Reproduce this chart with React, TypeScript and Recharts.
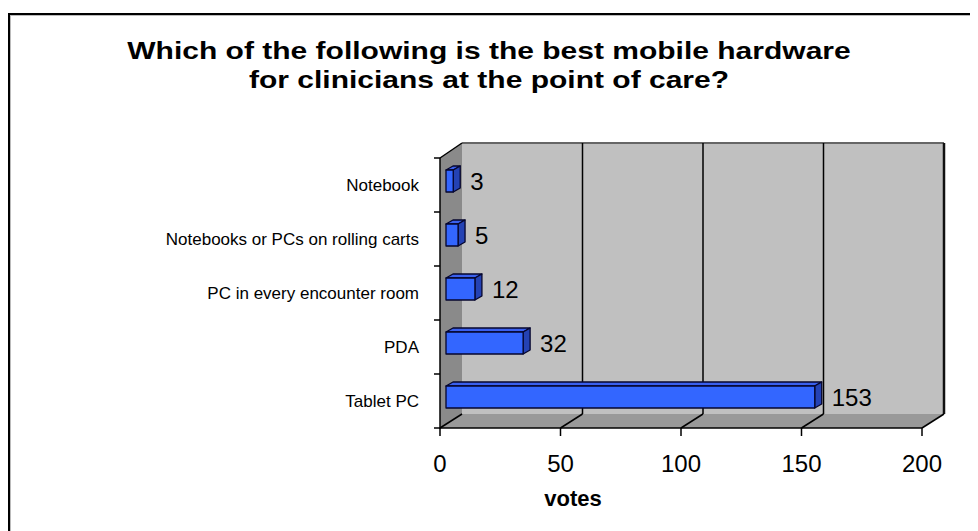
import { BarChart, Bar, XAxis, YAxis, ReferenceArea, ReferenceLine, LabelList, Label } from 'recharts'

// survey answers, top to bottom as in the chart
const categories = [
  'Notebook',
  'Notebooks or PCs on rolling carts',
  'PC in every encounter room',
  'PDA',
  'Tablet PC',
]
const votes = [3, 5, 12, 32, 153]
const xTicks = [0, 50, 100, 150, 200]

const data = categories.map((name, i) => ({ name, votes: votes[i] }))

const FONT = '"Liberation Sans", Arial, sans-serif'
// depth of the fake 3d box
const DX = 22
const DY = 14

function Walls(props: any) {
  const { x, y, width: w, height: h } = props
  const b = y + h
  const ticks = [0, 1, 2, 3, 4, 5].map((i) => y + (i * h) / 5)
  return (
    <g>
      <rect x={x + DX} y={y - 15} width={w} height={h + 15 - DY} fill="#c0c0c0" />
      <polygon
        points={`${x},${y} ${x + DX},${y - 15} ${x + DX},${b - DY} ${x},${b}`}
        fill="#8a8a8a"
      />
      <polygon
        points={`${x},${b} ${x + w},${b} ${x + w + DX},${b - DY} ${x + DX},${b - DY}`}
        fill="#999999"
      />
      <line x1={x + DX} y1={y - 15} x2={x + w + DX} y2={y - 15} stroke="#666" strokeWidth={2} />
      <line x1={x} y1={y} x2={x + DX} y2={y - 15} stroke="#000" strokeWidth={1.5} />
      <line x1={x + w + DX} y1={y - 15} x2={x + w + DX} y2={b - DY} stroke="#111" strokeWidth={2.5} />
      <line x1={x} y1={y} x2={x} y2={b + 1} stroke="#000" strokeWidth={1.5} />
      <line x1={x} y1={b} x2={x + w} y2={b} stroke="#000" strokeWidth={1.5} />
      {ticks.map((ty, i) => (
        <line key={i} x1={x - 6} y1={ty} x2={x} y2={ty} stroke="#000" strokeWidth={1.5} />
      ))}
    </g>
  )
}

const gridShape = (showBack: boolean) => (p: any) => {
  const { x1, y1, y2 } = p
  const top = Math.min(y1, y2)
  const bottom = Math.max(y1, y2)
  return (
    <g stroke="#000" strokeWidth={1.5}>
      {showBack && <line x1={x1 + DX} y1={top - 15} x2={x1 + DX} y2={bottom - DY} />}
      <line x1={x1} y1={bottom} x2={x1 + DX} y2={bottom - DY} />
    </g>
  )
}

function Box3D(props: any) {
  const { x, y, width, height } = props
  if (width == null || height == null) return null
  const fx = x + 6
  const fy = y - 4
  const bx = 7
  const by = 4
  return (
    <g stroke="#06062e" strokeWidth={1.3} strokeLinejoin="round">
      <polygon
        points={`${fx},${fy} ${fx + bx},${fy - by} ${fx + width + bx},${fy - by} ${fx + width},${fy}`}
        fill="#3a60ee"
      />
      <polygon
        points={`${fx + width},${fy} ${fx + width + bx},${fy - by} ${fx + width + bx},${fy - by + height} ${fx + width},${fy + height}`}
        fill="#2442b4"
      />
      <rect x={fx} y={fy} width={width} height={height} fill="#3366ff" />
    </g>
  )
}

function ValueLabel(props: any) {
  const { x, y, width, height, value } = props
  return (
    <text
      x={x + width + 23}
      y={y + height / 2 - 4}
      dominantBaseline="central"
      fontSize={24}
      fontFamily={FONT}
      fill="#000"
    >
      {value}
    </text>
  )
}

function XTick(props: any) {
  const { x, y, payload } = props
  return (
    <text
      x={x}
      y={y + 25}
      textAnchor="middle"
      dominantBaseline="central"
      fontSize={24}
      fontFamily={FONT}
      fill="#000"
    >
      {payload.value}
    </text>
  )
}

export default function App() {
  return (
    <div style={{ position: 'relative', width: 970, height: 523, overflow: 'hidden' }}>
      <div
        style={{
          position: 'absolute',
          left: 0,
          top: 5,
          width: 980,
          height: 530,
          borderLeft: '2px solid #000',
          borderTop: '2px solid #000',
          boxShadow: 'inset 1px 1px 0 #bbb',
        }}
      />
      <div
        style={{
          position: 'absolute',
          left: -4,
          top: 28,
          width: 970,
          textAlign: 'center',
          fontFamily: FONT,
          fontWeight: 'bold',
          fontSize: 24,
          lineHeight: '29px',
          transform: 'scaleX(1.25)',
          transformOrigin: 'center',
        }}
      >
        Which of the following is the best mobile hardware
        <br />
        for clinicians at the point of care?
      </div>
      <div style={{ position: 'absolute', left: 0, top: 0 }}>
        <BarChart
          width={970}
          height={523}
          data={data}
          layout="vertical"
          margin={{ top: 150, right: 56, bottom: 23, left: 0 }}
          barCategoryGap={0}
        >
          <XAxis
            type="number"
            domain={[0, 200]}
            ticks={xTicks}
            axisLine={false}
            tickLine={{ stroke: '#000', strokeWidth: 1.5 }}
            tickSize={8}
            tick={<XTick />}
            height={80}
          >
            <Label
              value="votes"
              position="insideBottom"
              offset={2}
              dx={-108}
              style={{ fontFamily: FONT, fontWeight: 'bold', fontSize: 22, fill: '#000' }}
            />
          </XAxis>
          <YAxis
            type="category"
            dataKey="name"
            width={432}
            axisLine={false}
            tickLine={false}
            tickSize={0}
            tickMargin={21}
            tick={{ fill: '#000', fontSize: 17, fontFamily: FONT }}
          />
          <ReferenceArea x1={0} x2={200} ifOverflow="visible" shape={Walls} zIndex={-60} />
          {xTicks.map((t) => (
            <ReferenceLine
              key={t}
              x={t}
              ifOverflow="visible"
              zIndex={-50}
              shape={gridShape(t !== 0 && t !== 200)}
            />
          ))}
          <Bar dataKey="votes" barSize={22} shape={Box3D} isAnimationActive={false}>
            <LabelList dataKey="votes" content={<ValueLabel />} />
          </Bar>
        </BarChart>
      </div>
    </div>
  )
}
